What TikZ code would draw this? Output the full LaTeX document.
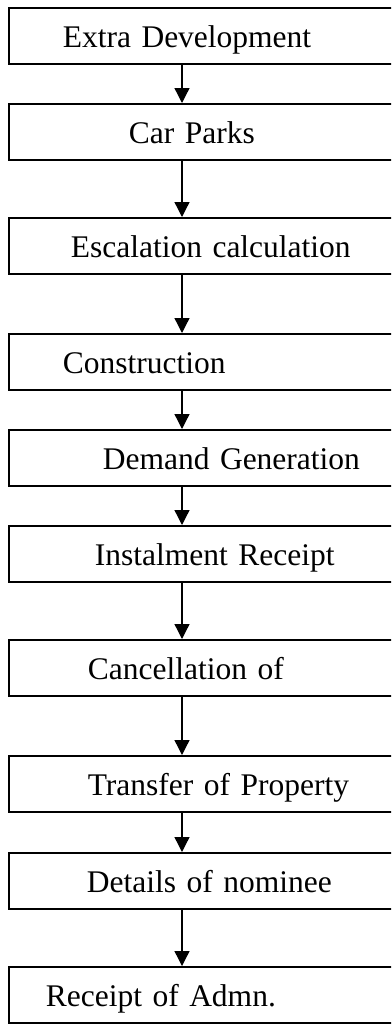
\documentclass[tikz,border=0pt]{standalone}
\usepackage{fontspec}
\setmainfont{Liberation Serif}
\usetikzlibrary{arrows.meta}

\tikzset{
	flowbox/.style={draw, line width=1.6pt, rectangle, anchor=north west, inner xsep=0pt,
		minimum height=56pt, text width=400pt, align=left, text height=30pt, text depth=7pt,
		font=\fontsize{31.5}{36}\selectfont},
	flowarrow/.style={line width=1.3pt, -{Triangle[length=15pt, width=15pt]}},
}

\begin{document}
\begin{tikzpicture}[x=1pt, y=-1pt]
	\clip (0,0) rectangle (391,1025);
	\coordinate (arrx) at (182,0);
	\foreach \top/\ind/\name/\txt in {
		7/54/ext/Extra Development, 103/120/car/Car Parks, 217/62/esc/Escalation calculation,
		333/54/con/Construction, 429/94/dem/Demand Generation, 525/86/ins/Instalment Receipt,
		639/79/can/Cancellation of, 755/79/tra/Transfer of Property, 852/78/nom/Details of nominee,
		966/37/adm/Receipt of Admn.
  } {
	\node [flowbox] (\name) at (8,\top) {\hspace*{\ind pt}\txt};
  }
	\foreach \a/\b in {ext/car, car/esc, esc/con, con/dem, dem/ins, ins/can, can/tra, tra/nom, nom/adm} {
	\draw [flowarrow] (\a.south -| arrx) -- (\b.north -| arrx);
  }
\end{tikzpicture}
\end{document}
